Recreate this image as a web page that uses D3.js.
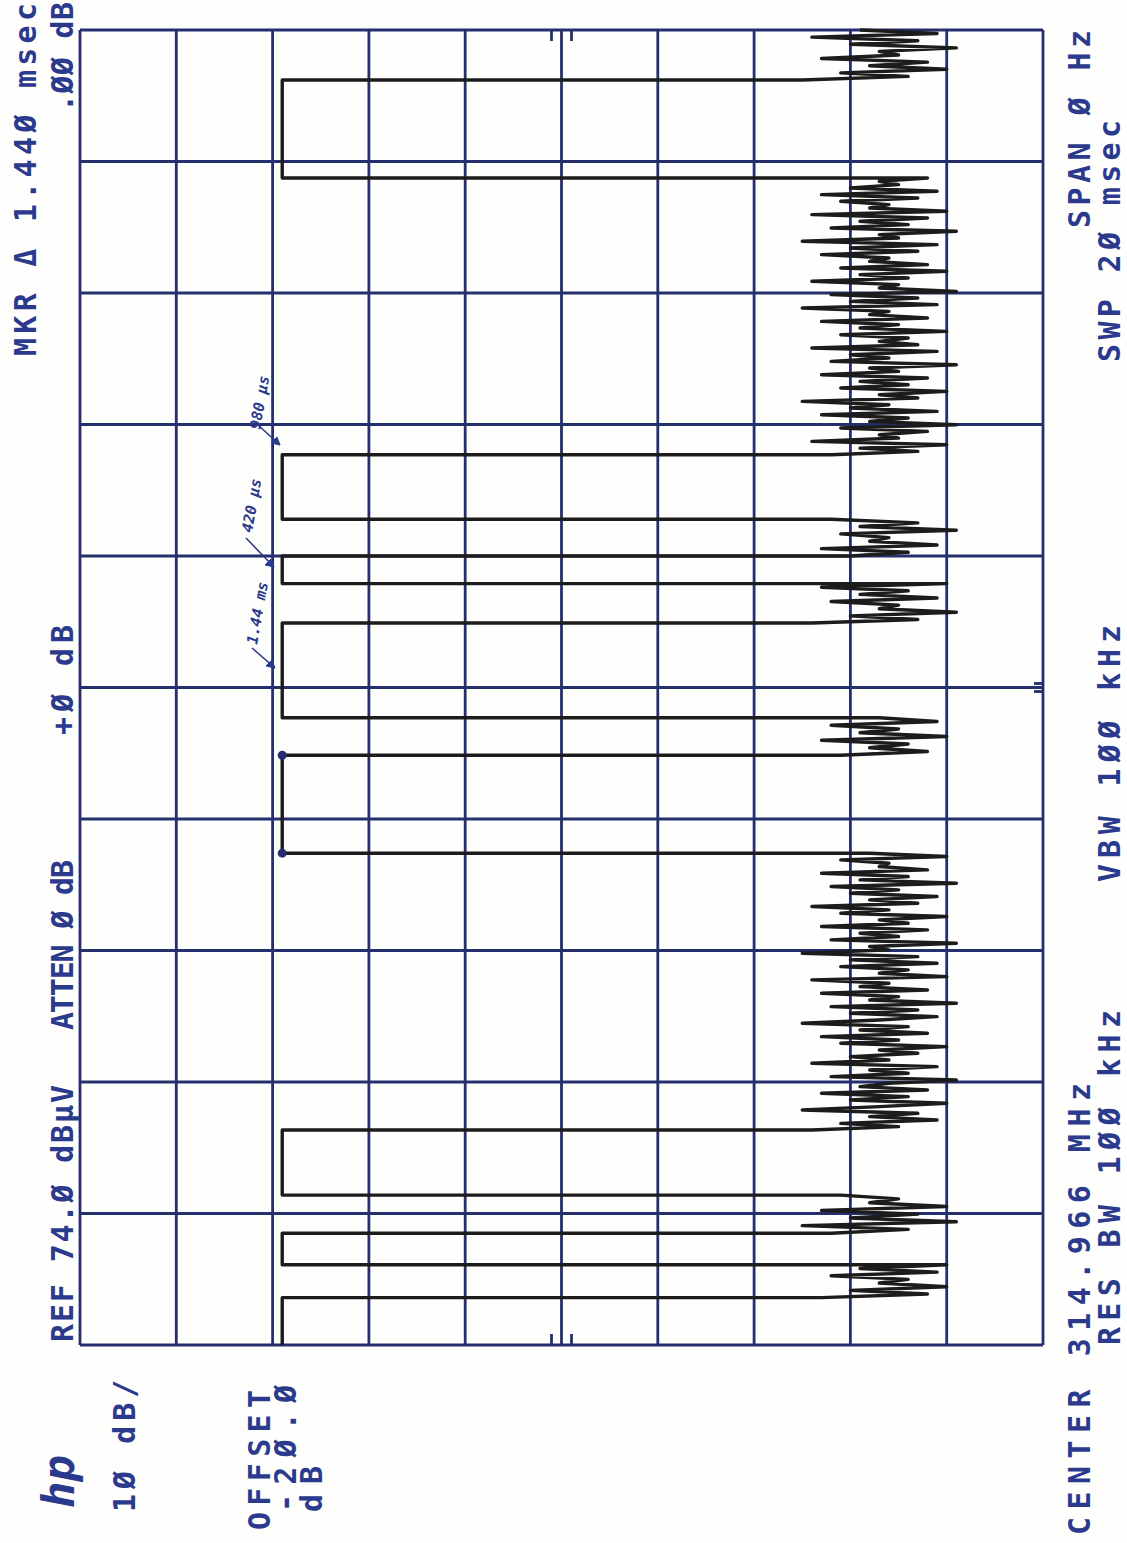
<!DOCTYPE html>
<html>
<head>
<meta charset="utf-8">
<script src="https://cdn.jsdelivr.net/npm/d3@7"></script>
<style>
  body { margin: 0; background: #fff; }
  text { font-family: "DejaVu Sans Mono", monospace; font-weight: bold; }
</style>
</head>
<body>
<div id="chart"></div>
<script>
// ---------------- data ----------------
var refLevel = 74;          // dBuV at top graticule line
var dbPerDiv = 10;
var sweepMs = 20;
var highLevel = 53;         // carrier level when on

// carrier-on periods, ms
var pulseStart = [0, 1.22, 2.28, 7.48, 9.54, 11.58, 12.56, 17.75];
var pulseEnd   = [0.72, 1.70, 3.27, 8.97, 10.98, 12.00, 13.54, 19.24];

// noise samples (dBuV) in the gaps between pulses, in time order
var noiseA = [-3, -14, -6, -16, -9, -12, -4, -15, -7, -16];
var noiseB = [-4, -12, -1, -17, -6, -13, -3, -16, -8, -11, -5];
var noiseC = [-2, -11, -5, -15, -8, -13, -1, -9, -16, -6, -12, -3, -14, -7, -10, -17, -4, -12, -8, -15,
  -2, -10, -6, -13, -9, -16, -5, -11, -3, -14, -7, -12, -1, -9, -15, -6, -13, -4, -17, -8,
  -11, -3, -14, -7, -10, -2, -16, -9, -12, -5, -15, -6, -13, -1, -10, -8, -17, -4, -11, -7,
  -14, -3, -12, -9, -16, -5, -10, -2, -13, -8, -15, -6, -11, -4, -17, -7, -12, -3, -14, -9,
  -10, -5, -16, -8];
var noiseD = [-5, -14, -8, -12, -3, -16, -7, -11, -4, -15, -9];
var noiseE = [-2, -13, -6, -17, -9, -11, -4, -15, -7, -12, -3, -16];
var noiseF = [-6, -12, -3, -15, -8, -10, -5, -17, -7, -13, -4];
var noiseG = [-4, -13, -7, -16, -2, -11, -9, -14, -5, -17, -8, -12, -3, -15, -6, -10, -1, -13, -9, -16,
  -5, -12, -7, -14, -3, -11, -8, -17, -4, -10, -6, -15, -2, -13, -9, -12, -5, -16, -7, -11,
  -3, -14, -8, -10, -1, -15, -6, -13, -4, -17, -9, -11, -2, -12, -7, -16, -5, -14, -8, -10,
  -3, -13, -6, -15, -1, -11, -9, -17, -4, -12, -7, -14, -2, -16, -8, -10, -5, -13, -3, -15,
  -6, -11, -9, -14];
var noiseH = [-1, -12, -5, -16, -8, -14, -3, -11, -9, -17, -6, -13, -2, -15, -7];
var gaps = [noiseA, noiseB, noiseC, noiseD, noiseE, noiseF, noiseG, noiseH];

// marker pair (delta marker) on pulse 4
var markerTimes = [7.48, 8.97];

// annotation text
var headerTop = ['REF 74.Ø dBµV', 'ATTEN Ø dB', '+Ø dB', '.ØØ dB'];
var headerMkr = 'MKR Δ 1.44Ø msec';
var footer1 = ['CENTER 314.966 MHz', 'SPAN Ø Hz'];
var footer2 = ['RES BW 1ØØ kHz', 'VBW 1ØØ kHz', 'SWP 2Ø msec'];
var sideText = ['1Ø dB/', 'OFFSET', '-2Ø.Ø', 'dB'];
var handNotes = ['980 µs', '420 µs', '1.44 ms'];

// ---------------- drawing ----------------
var width = 1127, height = 1543;
var gridColor = '#262f6e';
var textColor = '#2b3a8c';

var svg = d3.select('#chart')
  .append('svg')
  .attr('width', width)
  .attr('height', height);

svg.append('rect').attr('width', width).attr('height', height).attr('fill', '#fefefc');

// the plot is rotated: amplitude runs left (ref) to right, time runs bottom to top
var x_scale = d3.scaleLinear()
  .domain([refLevel, refLevel - dbPerDiv * 10])
  .range([80, 1043]);
var y_scale = d3.scaleLinear()
  .domain([0, sweepMs])
  .range([1345, 30]);

// graticule
var grid = svg.append('g').attr('stroke', gridColor).attr('stroke-width', 2.8);
grid.selectAll('line.v')
  .data(d3.range(0, 11))
  .enter().append('line')
  .attr('class', 'v')
  .attr('x1', function(d) { return x_scale(refLevel - d * dbPerDiv); })
  .attr('x2', function(d) { return x_scale(refLevel - d * dbPerDiv); })
  .attr('y1', y_scale(0))
  .attr('y2', y_scale(sweepMs));
grid.selectAll('line.h')
  .data(d3.range(0, 11))
  .enter().append('line')
  .attr('class', 'h')
  .attr('x1', x_scale.range()[0])
  .attr('x2', x_scale.range()[1])
  .attr('y1', function(d) { return y_scale(d * sweepMs / 10); })
  .attr('y2', function(d) { return y_scale(d * sweepMs / 10); });

// little centre ticks on the graticule edges
var midDb = refLevel - dbPerDiv * 5;
[-10, 10].forEach(function(off) {
  var xx = x_scale(midDb) + off;
  grid.append('line').attr('x1', xx).attr('x2', xx)
    .attr('y1', y_scale(sweepMs)).attr('y2', y_scale(sweepMs) + 11);
  grid.append('line').attr('x1', xx).attr('x2', xx)
    .attr('y1', y_scale(0)).attr('y2', y_scale(0) - 11);
});
[-4, 4].forEach(function(off) {
  var yy = y_scale(sweepMs / 2) + off;
  grid.append('line').attr('x1', x_scale.range()[1] - 9).attr('x2', x_scale.range()[1])
    .attr('y1', yy).attr('y2', yy);
});

// build the trace from pulses and noise
var trace = [];
pulseStart.forEach(function(a, i) {
  var b = pulseEnd[i];
  trace.push({t: a, v: highLevel});
  trace.push({t: b, v: highLevel});
  var gEnd = i + 1 < pulseStart.length ? pulseStart[i + 1] : sweepMs;
  var vals = gaps[i];
  vals.forEach(function(v, k) {
    trace.push({t: b + k * (gEnd - b) / (vals.length - 1), v: v});
  });
});

var line = d3.line()
  .x(function(d) { return x_scale(d.v); })
  .y(function(d) { return y_scale(d.t); });

svg.append('path')
  .datum(trace)
  .attr('d', line)
  .attr('fill', 'none')
  .attr('stroke', '#1c1c1c')
  .attr('stroke-width', 3.4)
  .attr('stroke-linejoin', 'round');

svg.selectAll('circle.mkr')
  .data(markerTimes)
  .enter().append('circle')
  .attr('class', 'mkr')
  .attr('cx', x_scale(highLevel))
  .attr('cy', function(d) { return y_scale(d); })
  .attr('r', 4.5)
  .attr('fill', gridColor);

// rotated text helper: start at (x, y0) reading upward to y1
function vtext(str, x, y0, y1, size) {
  var t = svg.append('text')
    .attr('transform', 'translate(' + x + ',' + y0 + ') rotate(-90)')
    .attr('font-size', size)
    .attr('fill', textColor)
    .text(str);
  if (y1 !== null) t.attr('textLength', y0 - y1).attr('lengthAdjust', 'spacing');
  return t;
}

vtext(headerMkr, 36, 356, 3, 30);
vtext(headerTop[0], 73, 1342, 1085, 30);
vtext(headerTop[1], 73, 1030, 860, 30);
vtext(headerTop[2], 73, 735, 625, 30);
vtext(headerTop[3], 73, 112, 2, 30);

vtext(footer1[0], 1090, 1535, 1083, 30);
vtext(footer1[1], 1090, 228, 30, 30);
vtext(footer2[0], 1120, 1345, 1010, 30);
vtext(footer2[1], 1120, 882, 625, 30);
vtext(footer2[2], 1120, 362, 120, 30);

vtext(sideText[0], 135, 1512, 1380, 30);
vtext(sideText[1], 270, 1530, 1390, 30);
vtext(sideText[2], 296, 1512, 1385, 30);
vtext(sideText[3], 322, 1512, 1466, 30);

// hp logo
svg.append('text')
  .attr('transform', 'translate(74,1508) rotate(-90)')
  .attr('font-size', 44)
  .attr('font-style', 'italic')
  .attr('font-family', 'Liberation Serif, serif')
  .attr('font-weight', 'normal')
  .attr('fill', textColor)
  .text('hp');

// handwritten notes with arrows
var notes = svg.append('g').attr('fill', textColor).attr('stroke', textColor);
var notePos = [
  {x: 260, y: 430, ax1: 258, ay1: 425, ax2: 280, ay2: 445},
  {x: 252, y: 533, ax1: 246, ay1: 538, ax2: 274, ay2: 567},
  {x: 257, y: 645, ax1: 252, ay1: 648, ax2: 275, ay2: 668}
];
handNotes.forEach(function(s, i) {
  var p = notePos[i];
  notes.append('text')
    .attr('transform', 'translate(' + p.x + ',' + p.y + ') rotate(-80)')
    .attr('font-size', 15)
    .attr('font-style', 'italic')
    .attr('font-weight', 'normal')
    .attr('font-family', 'DejaVu Sans, sans-serif')
    .attr('stroke', 'none')
    .text(s);
  notes.append('line')
    .attr('x1', p.ax1).attr('y1', p.ay1).attr('x2', p.ax2).attr('y2', p.ay2)
    .attr('stroke-width', 1.6);
  notes.append('path')
    .attr('d', 'M' + p.ax2 + ',' + p.ay2 + 'l-9,-2 l6,-6 z')
    .attr('stroke-width', 1);
});
</script>
</body>
</html>
